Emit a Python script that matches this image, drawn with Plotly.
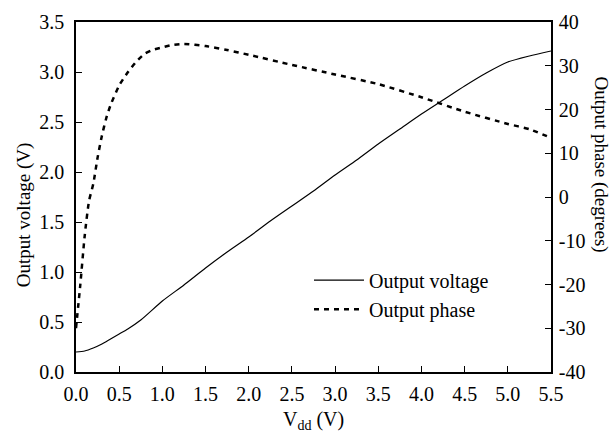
import plotly.graph_objects as go

vdd_v = [0.0, 0.1, 0.2, 0.3, 0.4, 0.5, 0.6, 0.75, 1.0, 1.25, 1.5, 1.75, 2.0, 2.25, 2.5, 2.75,
         3.0, 3.25, 3.5, 3.75, 4.0, 4.25, 4.5, 4.75, 5.0, 5.25, 5.5]
out_voltage = [0.20, 0.21, 0.24, 0.28, 0.33, 0.38, 0.43, 0.52, 0.71, 0.87, 1.04, 1.20, 1.35, 1.51,
               1.66, 1.81, 1.97, 2.12, 2.28, 2.43, 2.58, 2.72, 2.86, 2.99, 3.10, 3.16, 3.21]

vdd_p = [0.0, 0.05, 0.1, 0.15, 0.2, 0.25, 0.3, 0.35, 0.4, 0.5, 0.6, 0.7, 0.8, 0.9, 1.0, 1.1,
         1.25, 1.5, 1.75, 2.0, 2.5, 3.0, 3.5, 4.0, 4.5, 5.0, 5.25, 5.5]
out_phase = [-30, -20, -9, -1, 3, 9, 14, 18, 21, 25.5, 28.5, 31, 32.8, 33.7, 34.2, 34.7,
             35, 34.5, 33.6, 32.5, 30.2, 28, 25.8, 22.8, 19.5, 16.7, 15.5, 13.5]

x_ticks = [0.0, 0.5, 1.0, 1.5, 2.0, 2.5, 3.0, 3.5, 4.0, 4.5, 5.0, 5.5]
y_ticks = [0.0, 0.5, 1.0, 1.5, 2.0, 2.5, 3.0, 3.5]
y2_ticks = [-40, -30, -20, -10, 0, 10, 20, 30, 40]
y2_labels = ["-40", "-30", "-20", "-10", "0", "10", "20", "30", "40"]

FONT = "Liberation Serif, Times New Roman, serif"
FS = 20
TFS = 19

fig = go.Figure()
fig.add_trace(go.Scatter(x=vdd_v, y=out_voltage, mode="lines", name="Output voltage",
                         line=dict(color="black", width=1.2, shape="spline", smoothing=0.6)))
fig.add_trace(go.Scatter(x=vdd_p, y=out_phase, mode="lines", name="Output phase", yaxis="y2",
                         line=dict(color="black", width=2.5, dash="5px,5px", shape="spline", smoothing=0.6)))

axis_common = dict(ticks="inside", ticklen=6, tickwidth=1.2, tickcolor="black", showline=True,
                   linecolor="black", linewidth=1.5, showgrid=False, zeroline=False,
                   tickfont=dict(family=FONT, size=FS))

fig.update_layout(
    width=612, height=439,
    margin=dict(l=76, r=61, t=11, b=67),
    paper_bgcolor="white", plot_bgcolor="white",
    font=dict(family=FONT, size=FS, color="black"),
    showlegend=True,
    legend=dict(x=0.4905, y=0.318, xanchor="left", yanchor="top", bgcolor="rgba(0,0,0,0)",
                font=dict(family=FONT, size=FS), tracegroupgap=0, itemwidth=50),
    xaxis=dict(range=[0, 5.5], tickvals=x_ticks, tickformat=".1f", mirror=True,
               ticklabelstandoff=3, **axis_common),
    yaxis=dict(range=[0, 3.5], tickvals=y_ticks, tickformat=".1f", ticklabelstandoff=6,
               **axis_common),
    yaxis2=dict(range=[-40, 40], tickvals=y2_ticks, ticktext=y2_labels, overlaying="y", side="right",
                ticklabelstandoff=2, **axis_common),
)
fig.add_annotation(text="Output voltage (V)", textangle=-90, xref="paper", yref="paper",
                   x=0, xshift=-52, y=0.448, xanchor="center", yanchor="middle",
                   showarrow=False, font=dict(family=FONT, size=TFS))
fig.add_annotation(text="Output phase (degrees)", textangle=90, xref="paper", yref="paper",
                   x=1.0, xshift=50, y=0.593, xanchor="center", yanchor="middle",
                   showarrow=False, font=dict(family=FONT, size=TFS))
fig.add_annotation(text="V<sub>dd</sub> (V)", xref="paper", yref="paper",
                   x=0.5, y=0, yshift=-48, xanchor="center", yanchor="middle",
                   showarrow=False, font=dict(family=FONT, size=FS))

fig.write_html("out.html")
